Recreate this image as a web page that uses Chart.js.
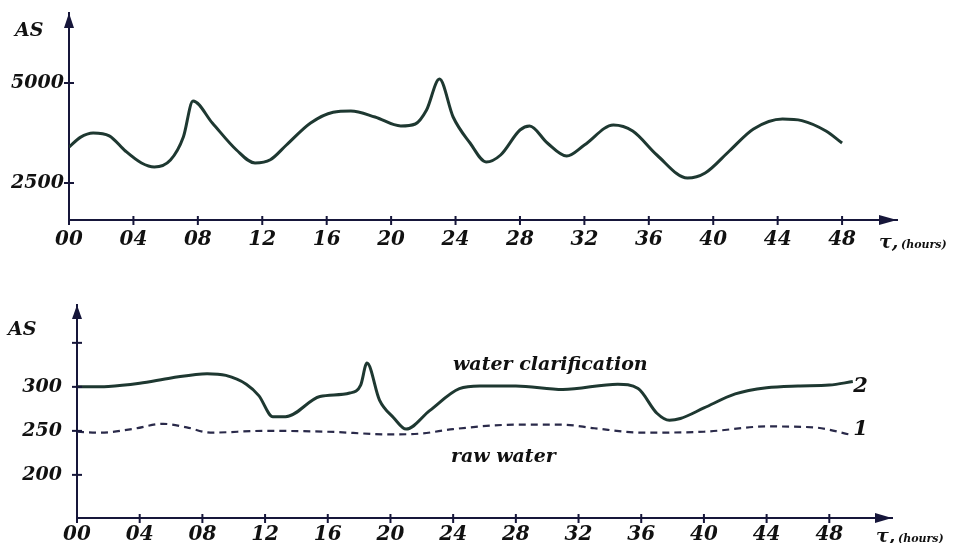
<!DOCTYPE html>
<html>
<head>
<meta charset="utf-8">
<script src="https://cdn.jsdelivr.net/npm/chart.js@4.4.1/dist/chart.umd.min.js"></script>
<style>
  html, body { margin: 0; padding: 0; background: #fff; }
  #page { position: relative; width: 959px; height: 543px; overflow: hidden; }
  .box { position: absolute; left: 0; width: 959px; }
</style>
</head>
<body>
<div id="page">
  <div class="box" style="top:0;height:265px"><canvas id="topChart"></canvas></div>
  <div class="box" style="top:265px;height:278px"><canvas id="bottomChart"></canvas></div>
</div>
<script>
// hours on the x axis (same ticks for both panels)
const hourTicks = [0, 4, 8, 12, 16, 20, 24, 28, 32, 36, 40, 44, 48];

// upper panel: AS over 48 hours
const topHours = [0, 0.7, 1.5, 2.5, 3.5, 4.5, 5.3, 6.3, 7.1, 7.7, 8.9, 10.4, 11.55, 12.5, 13.5, 15, 16.4, 17.5, 19, 20.6, 21.5, 22.2, 23.0, 23.85, 24.9, 25.9, 26.8, 28, 28.6, 29.7, 30.9, 32, 33.8, 35, 36.5, 38.4, 39.5, 41, 42.5, 44.3, 45.5, 47, 48];
const topAS    = [3400, 3640, 3750, 3680, 3300, 3000, 2900, 3075, 3650, 4550, 4000, 3325, 3000, 3080, 3450, 4000, 4270, 4300, 4150, 3925, 3975, 4325, 5100, 4150, 3500, 3025, 3200, 3825, 3925, 3500, 3175, 3450, 3950, 3800, 3200, 2625, 2750, 3300, 3850, 4100, 4060, 3800, 3500];
const topYTicks = [2500, 5000];

// lower panel: 2 = water clarification, 1 = raw water
const clarHours = [0, 2, 4, 6, 8.3, 9.5, 10.8, 11.6, 12.5, 13.3, 15.5, 17.4, 18.1, 18.5, 19.3, 20.2, 21.0, 22.5, 24.4, 25.7, 28, 31, 34.5, 35.8, 37, 37.8, 38.5, 40, 42, 44, 46, 48, 49.5];
const clarAS    = [300, 300.5, 304, 310, 315, 313, 303, 290, 266, 266, 289, 293, 302, 327, 285, 265, 252, 273, 298, 301, 301, 297, 303, 298, 270, 262, 264, 276, 292, 299, 301, 302, 306];
const rawHours = [0, 1.5, 3.5, 5.5, 7, 8.5, 12, 16, 20, 22, 24, 28, 31, 33, 36, 40, 44, 47, 49.5];
const rawAS    = [249, 248, 252, 258, 254, 248, 250, 249, 246, 247, 252, 257, 257, 253, 248, 249, 255, 254, 245];
const bottomYTicks = [200, 250, 300, 350];

const AXIS = '#16163a';
const CURVE = '#1e3831';
const FONT = 'DejaVu Serif';

const pts = (xs, ys) => xs.map((x, i) => ({ x: x, y: ys[i] }));

// arrows, ticks crossing the axes and the text labels
const decor = {
  id: 'decor',
  afterDraw(chart, args, opts) {
    const { ctx, chartArea: a, scales } = chart;
    const xs = scales.x, ys = scales.y;
    ctx.save();
    ctx.strokeStyle = AXIS;
    ctx.fillStyle = AXIS;
    ctx.lineWidth = 2;
    // tick marks
    hourTicks.forEach(v => {
      const px = xs.getPixelForValue(v);
      ctx.beginPath();
      ctx.moveTo(px, a.bottom - 4);
      ctx.lineTo(px, a.bottom + 5);
      ctx.stroke();
    });
    opts.yTicks.forEach(v => {
      const py = ys.getPixelForValue(v);
      ctx.beginPath();
      ctx.moveTo(a.left - 5, py);
      ctx.lineTo(a.left + 5, py);
      ctx.stroke();
    });
    // arrowheads
    ctx.beginPath();
    ctx.moveTo(a.left, a.top);
    ctx.lineTo(a.left - 5, a.top + opts.arrow);
    ctx.lineTo(a.left + 5, a.top + opts.arrow);
    ctx.closePath();
    ctx.fill();
    ctx.beginPath();
    ctx.moveTo(a.right, a.bottom);
    ctx.lineTo(a.right - opts.arrow - 3, a.bottom - 5);
    ctx.lineTo(a.right - opts.arrow - 3, a.bottom + 5);
    ctx.closePath();
    ctx.fill();
    // axis names
    ctx.fillStyle = '#111';
    ctx.textBaseline = 'middle';
    ctx.textAlign = 'left';
    ctx.font = 'italic bold 19px "' + FONT + '"';
    ctx.fillText('AS', opts.asPos[0], opts.asPos[1]);
    ctx.font = 'italic bold 19px "' + FONT + '"';
    ctx.fillText('τ,', opts.tauPos[0], opts.tauPos[1]);
    ctx.font = 'italic bold 11px "' + FONT + '"';
    ctx.fillText('(hours)', opts.tauPos[0] + 22, opts.tauPos[1] + 2);
    // curve labels in data coordinates
    (opts.labels || []).forEach(l => {
      ctx.font = 'italic bold ' + l.size + 'px "' + FONT + '"';
      ctx.textAlign = l.align || 'center';
      ctx.fillText(l.text, xs.getPixelForValue(l.x), ys.getPixelForValue(l.y));
    });
    ctx.restore();
  }
};

function makeChart(id, datasets, cfg) {
  return new Chart(document.getElementById(id), {
    type: 'line',
    data: { datasets: datasets },
    plugins: [decor],
    options: {
      responsive: true,
      maintainAspectRatio: false,
      animation: false,
      events: [],
      layout: { padding: { left: 0, top: cfg.top, right: cfg.right, bottom: 0 } },
      elements: { point: { radius: 0 } },
      scales: {
        x: {
          type: 'linear',
          min: 0,
          max: cfg.xMax,
          afterFit: s => { s.height = cfg.xHeight; s.paddingLeft = 0; s.paddingRight = 0; },
          afterBuildTicks: s => { s.ticks = hourTicks.map(v => ({ value: v })); },
          grid: { display: false, drawTicks: false },
          border: { display: true, color: AXIS, width: 2 },
          ticks: {
            autoSkip: false,
            maxRotation: 0,
            padding: cfg.xPad,
            color: '#111',
            font: { family: FONT, size: 20, style: 'italic', weight: 'bold' },
            callback: v => String(v).padStart(2, '0')
          }
        },
        y: {
          type: 'linear',
          min: cfg.yMin,
          max: cfg.yMax,
          afterFit: s => { s.width = cfg.yWidth; s.paddingTop = 0; s.paddingBottom = 0; },
          afterBuildTicks: s => { s.ticks = cfg.yTicks.map(v => ({ value: v })); },
          grid: { display: false, drawTicks: false },
          border: { display: true, color: AXIS, width: 2 },
          ticks: {
            padding: cfg.yPad,
            color: '#111',
            font: { family: FONT, size: 19, style: 'italic', weight: 'bold' },
            callback: v => (v === 350 ? '' : String(v))
          }
        }
      },
      plugins: {
        legend: { display: false },
        tooltip: { enabled: false },
        decor: cfg.decor
      }
    }
  });
}

makeChart('topChart', [{
  data: pts(topHours, topAS),
  borderColor: CURVE,
  borderWidth: 3,
  cubicInterpolationMode: 'monotone'
}], {
  top: 13, right: 62, xHeight: 45, yWidth: 69, xPad: 8, yPad: 5,
  xMax: 51.41, yMin: 1575, yMax: 6750, yTicks: topYTicks,
  decor: { yTicks: topYTicks, arrow: 15, asPos: [15, 31], tauPos: [879, 243] }
});

makeChart('bottomChart', [{
  data: pts(clarHours, clarAS),
  borderColor: CURVE,
  borderWidth: 3,
  cubicInterpolationMode: 'monotone'
}, {
  data: pts(rawHours, rawAS),
  borderColor: '#2a2a4a',
  borderWidth: 2.2,
  borderDash: [7, 5],
  cubicInterpolationMode: 'monotone'
}], {
  top: 40, right: 67, xHeight: 25, yWidth: 77, xPad: 5, yPad: 15,
  xMax: 52, yMin: 151, yMax: 393, yTicks: bottomYTicks,
  decor: {
    yTicks: bottomYTicks, arrow: 14, asPos: [8, 65], tauPos: [876, 272],
    labels: [
      { text: 'water clarification', x: 30.2, y: 325, size: 19 },
      { text: 'raw water', x: 27.2, y: 220, size: 19 },
      { text: '2', x: 50.0, y: 300, size: 21 },
      { text: '1', x: 50.0, y: 251, size: 21 }
    ]
  }
});
</script>
</body>
</html>
